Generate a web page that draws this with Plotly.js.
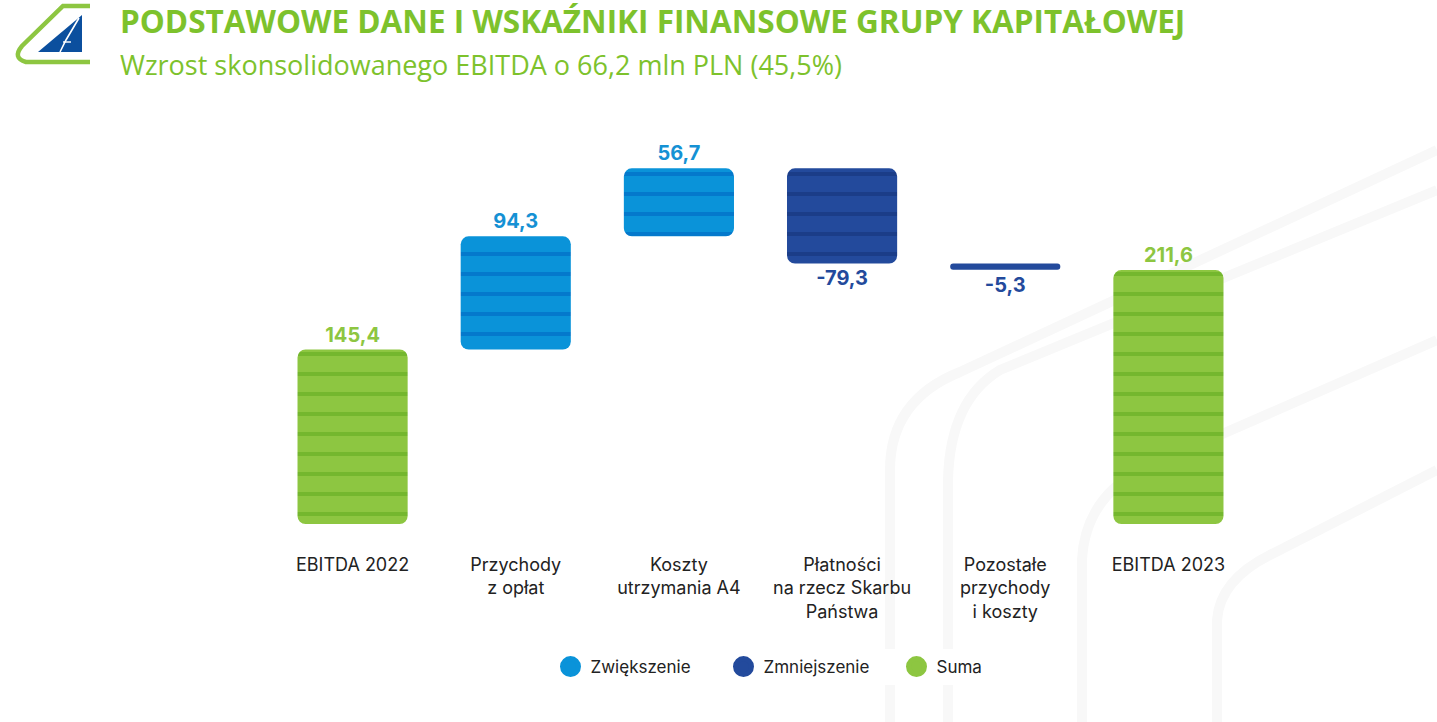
<!DOCTYPE html>
<html>
<head>
<meta charset="utf-8">
<script src="https://cdn.plot.ly/plotly-3.0.1.min.js"></script>
<style>html,body{margin:0;padding:0;background:#fff;}#chart{width:1437px;height:722px;}</style>
</head>
<body>
<div id="chart"></div>
<script>
// ---- data ----
const categories = ['EBITDA 2022', 'Przychody<br>z opłat', 'Koszty<br>utrzymania A4', 'Płatności<br>na rzecz Skarbu<br>Państwa', 'Pozostałe<br>przychody<br>i koszty', 'EBITDA 2023'];
const values = [145.4, 94.3, 56.7, -79.3, -5.3, 211.6];
const kinds = ['total', 'inc', 'inc', 'dec', 'dec', 'total'];
const seriesNames = {inc: 'Zwiększenie', dec: 'Zmniejszenie', total: 'Suma'};

// ---- styles ----
const COLORS = {inc: '#0A93D9', dec: '#234A9C', total: '#8DC641'};
const STRIPES = {inc: '#0479CC', dec: '#1B3D88', total: '#74B72E'};
const LABEL_COLORS = {inc: '#1591D4', dec: '#234A9C', total: '#8DC641'};

// layout geometry (pixels)
const W = 1437, H = 722;
const ML = 271, MR = 187, MT = 164, MB = 198;
const PW = W - ML - MR, PH = H - MT - MB;
const px = x => (x - ML) / PW;
const py = y => (H - MB - y) / PH;
const P = (x, y) => px(x).toFixed(5) + ',' + py(y).toFixed(5);

// compute floating bars
let running = 0;
const bases = [], heights = [];
values.forEach((v, i) => {
  if (kinds[i] === 'total') { bases.push(0); heights.push(v); running = v; }
  else { bases.push(running); heights.push(v); running += v; }
});
const fmt = v => v.toFixed(1).replace('.', ',');

const traces = [];
['inc', 'dec', 'total'].forEach(k => {
  const x = [], y = [], b = [], t = [];
  values.forEach((v, i) => {
    if (kinds[i] === k) { x.push(categories[i]); y.push(heights[i]); b.push(bases[i]); t.push(fmt(v)); }
  });
  traces.push({
    type: 'bar', x: x, y: y, base: b, text: t,
    textposition: 'outside', cliponaxis: false,
    textfont: {family: 'Inter, "Open Sans", sans-serif', size: 20, color: LABEL_COLORS[k], weight: 700},
    width: 0.675,
    marker: {
      color: COLORS[k], cornerradius: 8, line: {width: 0},
      pattern: {shape: '-', fgcolor: STRIPES[k], bgcolor: COLORS[k], size: 20, solidity: 0.2, fillmode: 'replace'}
    },
    showlegend: false, hoverinfo: 'skip', name: seriesNames[k]
  });
});
// legend entries (circles)
['inc', 'dec', 'total'].forEach(k => {
  traces.push({
    type: 'scatter', mode: 'markers', x: [null], y: [null], name: seriesNames[k],
    marker: {color: COLORS[k], size: 24, symbol: 'circle', line: {color: COLORS[k], width: 5}}, showlegend: true
  });
});

// decorative background curves
const bg = [
  [[890,722],[890,470],[890,400],[960,372],[1437,150]],
  [[948,722],[948,480],[950,400],[1000,370],[1437,190]],
  [[1082,722],[1082,560],[1085,500],[1140,470],[1437,340]],
  [[1217,722],[1217,620],[1220,580],[1270,555],[1437,470]]
];
const shapes = bg.map(c => ({
  type: 'path', xref: 'paper', yref: 'paper', layer: 'below',
  path: 'M' + P(...c[0]) + ' L' + P(...c[1]) + ' Q' + P(...c[2]) + ' ' + P(...c[3]) + ' L' + P(...c[4]),
  line: {color: '#f8f8f8', width: 10}
}));
// logo
shapes.push({
  type: 'path', xref: 'paper', yref: 'paper',
  path: 'M' + P(90,6) + ' L' + P(63,6) + ' L' + P(22,46) + ' Q' + P(12,58) + ' ' + P(26,62) + ' L' + P(90,62),
  line: {color: '#8DC641', width: 4.5}
});
shapes.push({
  type: 'path', xref: 'paper', yref: 'paper',
  path: 'M' + P(38,52) + ' L' + P(82,52) + ' L' + P(82,15) + ' Z',
  fillcolor: '#0B4F9E', line: {width: 0}
});
shapes.push({
  type: 'path', xref: 'paper', yref: 'paper',
  path: 'M' + P(60,52) + ' L' + P(66,40) + ' L' + P(79,18),
  line: {color: '#ffffff', width: 1.6}
});
shapes.push({
  type: 'path', xref: 'paper', yref: 'paper',
  path: 'M' + P(63,42) + ' L' + P(71,42),
  line: {color: '#ffffff', width: 1.4}
});

const layout = {
  width: W, height: H,
  margin: {l: ML, r: MR, t: MT, b: MB, pad: 0},
  paper_bgcolor: '#ffffff', plot_bgcolor: 'rgba(0,0,0,0)',
  barmode: 'overlay',
  showlegend: true,
  legend: {
    orientation: 'h', x: px(810), xanchor: 'center', y: py(667), yanchor: 'middle',
    font: {family: 'Inter, "Open Sans", sans-serif', size: 17, color: '#222'},
    itemsizing: 'trace', tracegroupgap: 0, itemwidth: 30,
    entrywidth: 128, entrywidthmode: 'pixels'
  },
  xaxis: {
    type: 'category', categoryorder: 'array', categoryarray: categories,
    showgrid: false, zeroline: false, showline: false, ticks: '',
    ticklabelstandoff: 28, fixedrange: true,
    tickfont: {family: 'Inter, "Open Sans", sans-serif', size: 18, color: '#222'}
  },
  yaxis: {range: [0, 300], visible: false, fixedrange: true},
  shapes: shapes,
  annotations: [
    {xref: 'paper', yref: 'paper', x: px(118), y: py(20), xanchor: 'left', yanchor: 'middle', showarrow: false,
     text: 'PODSTAWOWE DANE I WSKAŹNIKI FINANSOWE GRUPY KAPITAŁOWEJ',
     font: {family: '"Open Sans", sans-serif', size: 31.5, color: '#7DC22C', weight: 700}},
    {xref: 'paper', yref: 'paper', x: px(118), y: py(64), xanchor: 'left', yanchor: 'middle', showarrow: false,
     text: 'Wzrost skonsolidowanego EBITDA o 66,2 mln PLN (45,5%)',
     font: {family: '"Open Sans", sans-serif', size: 27, color: '#7DC22C'}}
  ]
};

Plotly.newPlot('chart', traces, layout, {displayModeBar: false, staticPlot: true});
</script>
</body>
</html>
